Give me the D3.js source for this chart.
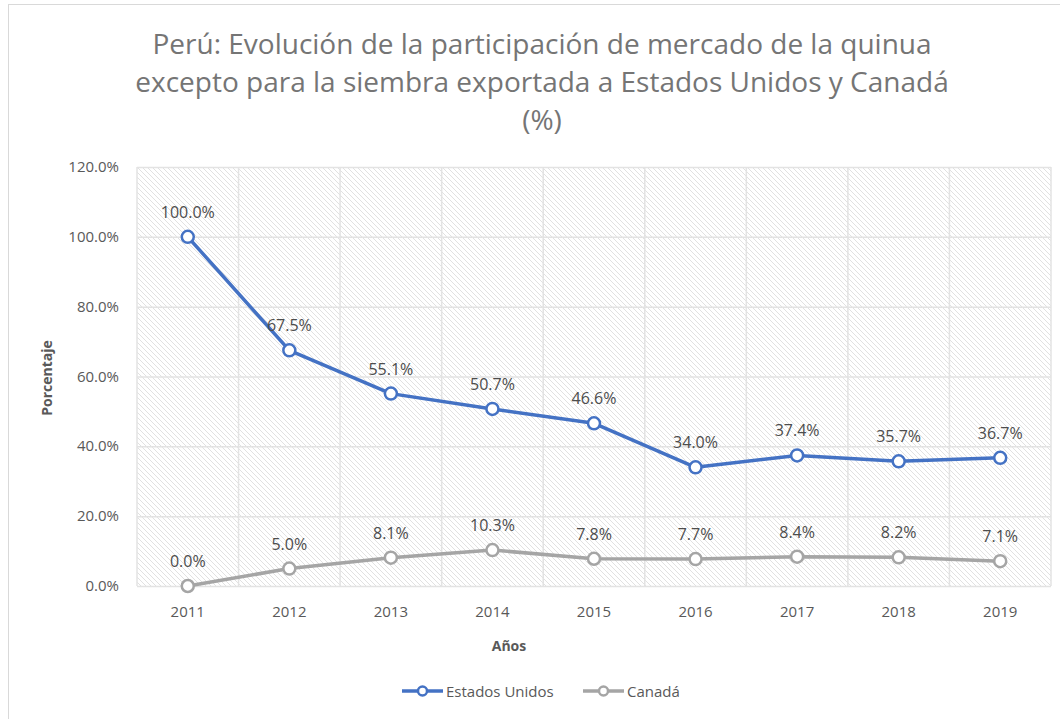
<!DOCTYPE html>
<html>
<head>
<meta charset="utf-8">
<script src="https://cdn.jsdelivr.net/npm/d3@7/dist/d3.min.js"></script>
<style>
  body { margin: 0; background: #fff; }
  text { font-family: "Open Sans", "Liberation Sans", sans-serif; }
</style>
</head>
<body>
<div id="chart"></div>
<script>
// Chart data
const years = ['2011', '2012', '2013', '2014', '2015', '2016', '2017', '2018', '2019'];
const estadosUnidos = [100.0, 67.5, 55.1, 50.7, 46.6, 34.0, 37.4, 35.7, 36.7];
const canada = [0.0, 5.0, 8.1, 10.3, 7.8, 7.7, 8.4, 8.2, 7.1];
const yTicks = [0, 20, 40, 60, 80, 100, 120];
const titleLines = [
    'Perú: Evolución de la participación de mercado de la quinua',
    'excepto para la siembra exportada a Estados Unidos y Canadá',
    '(%)'
];

const width = 1060, height = 719;
const plot = { left: 137, right: 1051, top: 167, bottom: 586 };

const svg = d3.select('#chart')
    .append('svg')
    .attr('width', width)
    .attr('height', height);

// Hatch pattern for the plot area
const defs = svg.append('defs');
defs.append('pattern')
    .attr('id', 'hatch')
    .attr('patternUnits', 'userSpaceOnUse')
    .attr('width', 5)
    .attr('height', 5)
    .append('path')
    .attr('d', 'M-1,-1L6,6M4,-1L6,1M-1,4L1,6')
    .attr('stroke', '#dedede')
    .attr('stroke-width', 0.9);

// Outer frame
svg.append('rect')
    .attr('x', 8.5).attr('y', 4.5)
    .attr('width', 1060).attr('height', 720)
    .attr('fill', '#fff')
    .attr('stroke', '#d9d9d9');

const x = d3.scaleBand().domain(years).range([plot.left, plot.right]);
const y = d3.scaleLinear().domain([0, 120]).range([plot.bottom, plot.top]);
const cx = d => x(d) + x.bandwidth() / 2;

svg.append('rect')
    .attr('x', plot.left).attr('y', plot.top)
    .attr('width', plot.right - plot.left).attr('height', plot.bottom - plot.top)
    .attr('fill', 'url(#hatch)');

// Grid lines
svg.append('g')
    .selectAll('line')
    .data(yTicks)
    .join('line')
    .attr('x1', plot.left).attr('x2', plot.right)
    .attr('y1', d => y(d) + 0.5).attr('y2', d => y(d) + 0.5)
    .attr('stroke', '#e3e3e3')
    .attr('stroke-width', 1.5);

svg.append('g')
    .selectAll('line')
    .data(d3.range(years.length + 1))
    .join('line')
    .attr('x1', i => plot.left + i * x.step())
    .attr('x2', i => plot.left + i * x.step())
    .attr('y1', plot.top).attr('y2', plot.bottom)
    .attr('stroke', '#e3e3e3')
    .attr('stroke-width', 1.5);

// Axis labels
svg.append('g')
    .selectAll('text')
    .data(yTicks)
    .join('text')
    .attr('x', 119)
    .attr('y', d => y(d) + 5)
    .attr('text-anchor', 'end')
    .attr('font-size', '15px')
    .attr('fill', '#595959')
    .text(d => d.toFixed(1) + '%');

svg.append('g')
    .selectAll('text')
    .data(years)
    .join('text')
    .attr('x', d => cx(d))
    .attr('y', 617)
    .attr('text-anchor', 'middle')
    .attr('font-size', '15px')
    .attr('fill', '#595959')
    .text(d => d);

svg.append('text')
    .attr('x', 509).attr('y', 651)
    .attr('text-anchor', 'middle')
    .attr('font-size', '14px')
    .attr('font-weight', 'bold')
    .attr('fill', '#595959')
    .text('Años');

svg.append('text')
    .attr('transform', 'translate(52,378) rotate(-90)')
    .attr('text-anchor', 'middle')
    .attr('font-size', '14px')
    .attr('font-weight', 'bold')
    .attr('fill', '#595959')
    .text('Porcentaje');

// Title
svg.append('g')
    .selectAll('text')
    .data(titleLines)
    .join('text')
    .attr('x', 542)
    .attr('y', (d, i) => 54 + i * 38)
    .attr('text-anchor', 'middle')
    .attr('font-size', '28px')
    .attr('fill', '#757575')
    .text(d => d);

// Series
const series = [
    { name: 'Estados Unidos', values: estadosUnidos, color: '#4472c4' },
    { name: 'Canadá', values: canada, color: '#a5a5a5' }
];

const line = d3.line()
    .x((d, i) => cx(years[i]))
    .y(d => y(d));

series.forEach(s => {
    svg.append('path')
        .datum(s.values)
        .attr('d', line)
        .attr('fill', 'none')
        .attr('stroke', s.color)
        .attr('stroke-width', 3.5)
        .attr('stroke-linejoin', 'round');

    svg.append('g')
        .selectAll('circle')
        .data(s.values)
        .join('circle')
        .attr('cx', (d, i) => cx(years[i]))
        .attr('cy', d => y(d))
        .attr('r', 6)
        .attr('fill', '#fff')
        .attr('stroke', s.color)
        .attr('stroke-width', 2.5);

    svg.append('g')
        .selectAll('text')
        .data(s.values)
        .join('text')
        .attr('x', (d, i) => cx(years[i]))
        .attr('y', d => y(d) - 19)
        .attr('text-anchor', 'middle')
        .attr('font-size', '16px')
        .attr('fill', '#4d4d4d')
        .text(d => d.toFixed(1) + '%');
});

// Legend
const legendX = [402, 583];
series.forEach((s, i) => {
    const g = svg.append('g').attr('transform', `translate(${legendX[i]},691)`);
    g.append('line')
        .attr('x1', 0).attr('x2', 41)
        .attr('stroke', s.color)
        .attr('stroke-width', 3.5);
    g.append('circle')
        .attr('cx', 20.5).attr('r', 4.5)
        .attr('fill', '#fff')
        .attr('stroke', s.color)
        .attr('stroke-width', 2.5);
    g.append('text')
        .attr('x', 44).attr('y', 6)
        .attr('font-size', '15px')
        .attr('fill', '#595959')
        .text(s.name);
});
</script>
</body>
</html>
